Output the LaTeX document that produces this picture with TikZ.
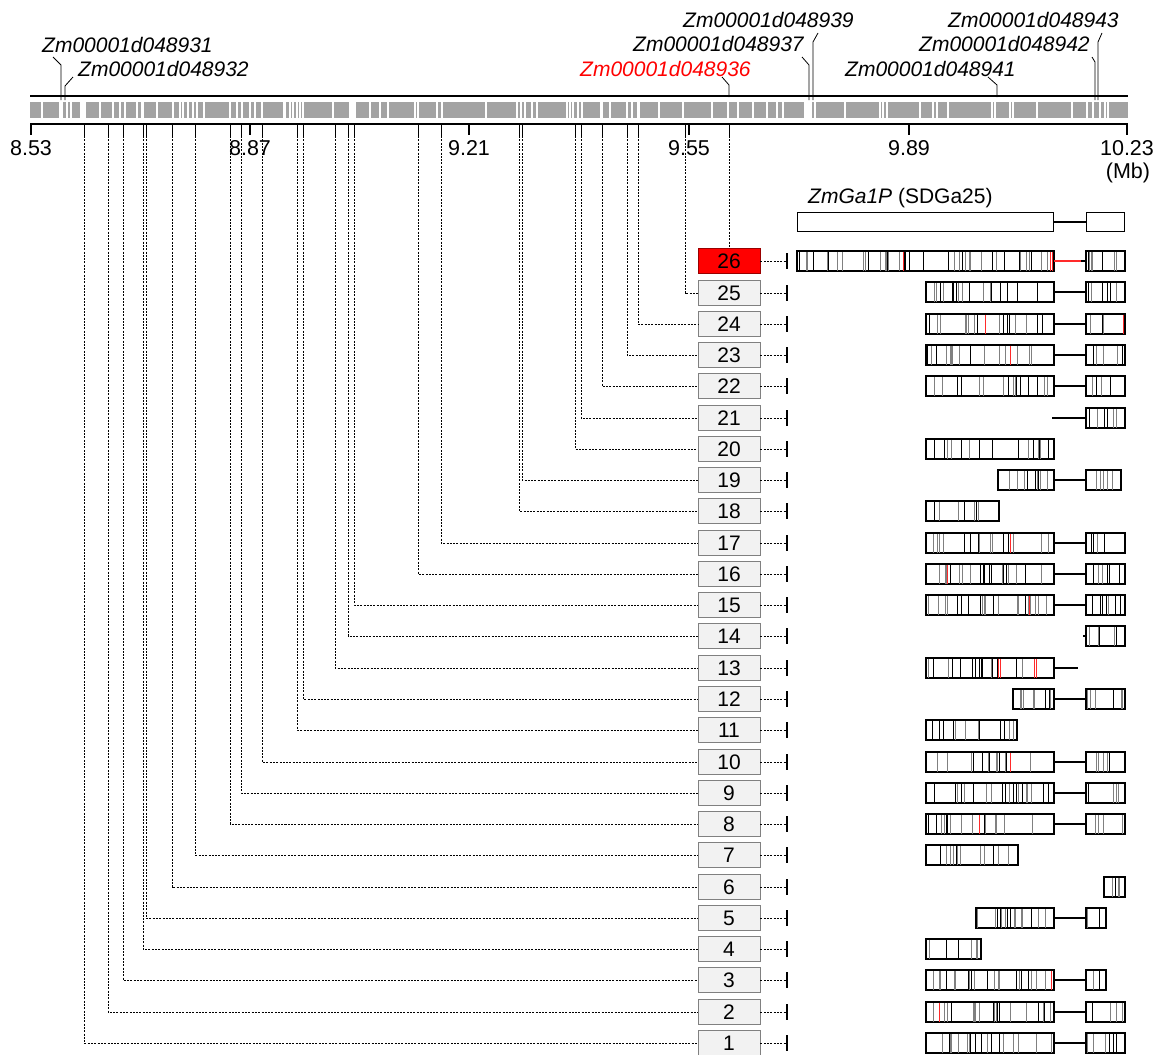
\documentclass[tikz,border=0pt]{standalone}
\usepackage{fontspec}
\setmainfont{Liberation Sans}
\definecolor{barg}{HTML}{A3A3A3}
\definecolor{boxg}{HTML}{F2F2F2}
\definecolor{boxb}{HTML}{808080}
\definecolor{vred}{HTML}{FF2A2A}
\newcommand\exonv[5]{% name, x1, x2, y, n
  \node[exon, minimum width=#3-#2] (#1) at (#2,#4) {};
  \foreach \i in {1,...,#5}{%
    \pgfmathsetmacro\vx{#2+1.2+rnd*(#3-#2-2.4)}%
    \pgfmathtruncatemacro\vg{rnd<0.4 ? 100 : 50}%
    \draw[line width=0.8pt, black!\vg] (\vx,#4-9.5) -- (\vx,#4+9.5);
  }
  \draw[line width=1.1pt] (#1.north west) rectangle (#1.south east);
}
\newcommand\redv[2]{\draw[vred, line width=1pt] (#1,#2-9.5) -- (#1,#2+9.5);}
\begin{document}
\begin{tikzpicture}[x=1pt,y=-1pt,
  numbox/.style={draw=boxb, fill=boxg, line width=0.9pt, minimum width=62pt, minimum height=25pt, inner sep=0pt, font=\fontsize{21}{23}\selectfont},
  dashl/.style={line width=0.9pt, dash pattern=on 2pt off 1.3pt},
  exon/.style={draw=black, line width=1.1pt, fill=white, minimum height=19pt, inner sep=0pt, anchor=west},
  intron/.style={line width=2.1pt},
  glabel/.style={font=\fontsize{21}{24}\selectfont\itshape, anchor=base west, inner sep=0pt},
  ticklab/.style={font=\fontsize{21.5}{24}\selectfont, anchor=base, inner sep=0pt},
  lead/.style={line width=0.8pt},
]
\useasboundingbox (0,0) rectangle (1165,1055);
\pgfmathsetseed{7}

% ---------- gene labels ----------
\node[glabel] (l931) at (42,52) {Zm00001d048931};
\node[glabel] (l932) at (78,76) {Zm00001d048932};
\node[glabel, text=red] (l936) at (580,76) {Zm00001d048936};
\node[glabel] (l937) at (633,51) {Zm00001d048937};
\node[glabel] (l939) at (683,27) {Zm00001d048939};
\node[glabel] (l941) at (845,76) {Zm00001d048941};
\node[glabel] (l942) at (919,51) {Zm00001d048942};
\node[glabel] (l943) at (948,27) {Zm00001d048943};

\coordinate (p931) at (61,100);
\coordinate (p932) at (65,100);
\coordinate (p936) at (729,97);
\coordinate (p937) at (809,100);
\coordinate (p939) at (813,100);
\coordinate (p941) at (997,97);
\coordinate (p942) at (1095,100);
\coordinate (p943) at (1098,100);
\draw[lead] (53,57) -- (61,65) -- (p931);
\draw[lead] (73,77) -- (65,86) -- (p932);
\draw[lead] (722,77) -- (729,85) -- (p936);
\draw[lead] (802,57) -- (809,65) -- (p937);
\draw[lead] (818,33) -- (813,42) -- (p939);
\draw[lead] (988,77) -- (997,85) -- (p941);
\draw[lead] (1092,57) -- (1095,62) -- (p942);
\draw[lead] (1102,33) -- (1098,42) -- (p943);

% ---------- chromosome bar ----------
\draw[line width=2pt] (30,96) -- (1128,96);
\fill[barg] (30,102) rectangle (1128,118);
\foreach \a/\b in {59/63, 80/86, 141/144, 283/286, 349/356, 485/487, 600/603, 637/640, 658/660, 804/812}
  \fill[white] (\a,101) rectangle (\b,119);
\foreach \g in {42,67,71,100,113,120,125,137,157,173,180,183,188,193,197,204,230,237,242,250,255,262,290,293,297,300,303,333,370,380,388,415,418,437,442,517,521,525,532,537,567,570,573,578,582,610,627,632,683,712,728,738,753,767,777,783,815,845,880,883,887,920,933,937,948,992,995,1010,1013,1037,1072,1087,1093,1100,1105,1108}
  \draw[white, line width=1.3pt] (\g,101) -- (\g,119);

% ---------- axis ----------
\draw[line width=2pt] (30,124) -- (1128,124);
\foreach \x/\t in {31/8.53, 250/8.87, 469/9.21, 689/9.55, 909/9.89, 1127/10.23}{
  \draw[line width=1.3pt] (\x,124) -- (\x,135);
  \node[ticklab] at (\x,155) {\t};
}
\node[ticklab] (mb) at (1128,178) {(Mb)};

% ---------- numbered boxes and connectors ----------
\foreach \k/\bx in {1/84,2/108,3/123,4/143,5/146,6/172,7/195,8/230,9/241,10/262,11/297,12/303,13/335,14/348,15/354,16/418,17/441,18/519,19/522,20/575,21/581,22/602,23/627,24/638,25/685}{
  \pgfmathsetmacro\ry{round(1043-(\k-1)*31.27)}
  \node[numbox] (b\k) at (729,\ry) {\k};
  \coordinate (t\k) at (\bx,124);
  \coordinate (r\k) at (787,\ry);
  \draw[line width=1pt] (t\k) -- ++(0,12);
  \draw[dashl] (t\k) ++(0,12) |- (b\k.west);
  \draw[dashl] (b\k.east) -- (r\k);
  \draw[line width=1.2pt] (r\k) ++(0,-8) -- ++(0,16);
}
\node[numbox, fill=red, draw=red!60!black] (b26) at (729,261) {26};
\coordinate (t26) at (729,124);
\coordinate (r26) at (787,261);
\draw[line width=1pt] (t26) -- ++(0,12);
\draw[dashl] (t26) ++(0,12) -- (b26.north);
\draw[dashl] (b26.east) -- (r26);
\draw[line width=1.2pt] (r26) ++(0,-8) -- ++(0,16);

% ---------- gene model ----------
\node[anchor=base west, inner sep=0pt, font=\fontsize{21}{24}\selectfont] (gname) at (808,203) {\textit{ZmGa1P} (SDGa25)};
\node[exon, minimum width=256] (m1) at (797,222) {};
\node[exon, minimum width=38] (m2) at (1086,222) {};
\draw[line width=1.4pt] (m1.east) -- (m2.west);

% ---------- haplotype rows ----------
% 26
\exonv{g26a}{797}{1053}{261}{40}
\exonv{g26b}{1086}{1124}{261}{7}
\redv{903}{261}\redv{1050}{261}\redv{1052.5}{261}
\draw[intron, vred, line width=1.6pt] (g26a.east) -- (1081,261);
\draw[intron] (1081,261) -- (g26b.west);
% 25
\exonv{g25a}{926}{1053}{292}{18}
\exonv{g25b}{1086}{1124}{292}{6}
\draw[intron] (g25a.east) -- (g25b.west);
% 24
\exonv{g24a}{926}{1053}{324}{17}
\exonv{g24b}{1086}{1124}{324}{4}
\redv{985}{324}\redv{1123}{324}
\draw[intron] (g24a.east) -- (g24b.west);
% 23
\exonv{g23a}{926}{1053}{355}{16}
\exonv{g23b}{1086}{1124}{355}{6}
\redv{1010}{355}
\draw[intron] (g23a.east) -- (g23b.west);
% 22
\exonv{g22a}{926}{1053}{386}{17}
\exonv{g22b}{1086}{1124}{386}{5}
\draw[intron] (g22a.east) -- (g22b.west);
% 21
\exonv{g21b}{1086}{1124}{418}{6}
\coordinate (c21) at (1052,418);
\draw[intron] (c21) -- (g21b.west);
% 20
\exonv{g20a}{926}{1053}{449}{16}
% 19
\exonv{g19a}{998}{1053}{480}{9}
\exonv{g19b}{1086}{1120}{480}{5}
\draw[intron] (g19a.east) -- (g19b.west);
% 18
\exonv{g18a}{926}{998}{511}{8}
% 17
\exonv{g17a}{926}{1053}{543}{17}
\exonv{g17b}{1086}{1124}{543}{4}
\redv{1010}{543}
\draw[intron] (g17a.east) -- (g17b.west);
% 16
\exonv{g16a}{926}{1053}{574}{22}
\exonv{g16b}{1086}{1124}{574}{7}
\redv{947}{574}
\draw[intron] (g16a.east) -- (g16b.west);
% 15
\exonv{g15a}{926}{1053}{605}{22}
\exonv{g15b}{1086}{1124}{605}{8}
\redv{1029}{605}
\draw[intron] (g15a.east) -- (g15b.west);
% 14
\exonv{g14b}{1086}{1124}{636}{5}
\coordinate (c14) at (1083,636);
\draw[intron] (c14) -- (g14b.west);
% 13
\exonv{g13a}{926}{1053}{668}{15}
\redv{998}{668}\redv{1000}{668}\redv{1034}{668}\redv{1036}{668}
\coordinate (c13) at (1078,668);
\draw[intron] (g13a.east) -- (c13);
% 12
\exonv{g12a}{1013}{1053}{699}{9}
\exonv{g12b}{1086}{1124}{699}{6}
\draw[intron] (g12a.east) -- (g12b.west);
% 11
\exonv{g11a}{926}{1016}{730}{13}
% 10
\exonv{g10a}{926}{1053}{762}{14}
\exonv{g10b}{1086}{1124}{762}{5}
\redv{1010}{762}
\draw[intron] (g10a.east) -- (g10b.west);
% 9
\exonv{g9a}{926}{1053}{793}{20}
\exonv{g9b}{1086}{1124}{793}{4}
\draw[intron] (g9a.east) -- (g9b.west);
% 8
\exonv{g8a}{926}{1053}{824}{19}
\exonv{g8b}{1086}{1124}{824}{4}
\redv{979}{824}
\draw[intron] (g8a.east) -- (g8b.west);
% 7
\exonv{g7a}{926}{1017}{855}{13}
% 6
\exonv{g6b}{1104}{1124}{887}{4}
% 5
\exonv{g5a}{976}{1053}{918}{16}
\exonv{g5b}{1086}{1105}{918}{2}
\draw[intron] (g5a.east) -- (g5b.west);
% 4
\exonv{g4a}{926}{980}{949}{7}
% 3
\exonv{g3a}{926}{1053}{980}{24}
\exonv{g3b}{1086}{1105}{980}{2}
\redv{1051}{980}
\draw[intron] (g3a.east) -- (g3b.west);
% 2
\exonv{g2a}{926}{1053}{1012}{22}
\exonv{g2b}{1086}{1124}{1012}{4}
\redv{939}{1012}
\draw[intron] (g2a.east) -- (g2b.west);
% 1
\exonv{g1a}{926}{1053}{1043}{22}
\exonv{g1b}{1086}{1124}{1043}{7}
\draw[intron] (g1a.east) -- (g1b.west);
\end{tikzpicture}
\end{document}
